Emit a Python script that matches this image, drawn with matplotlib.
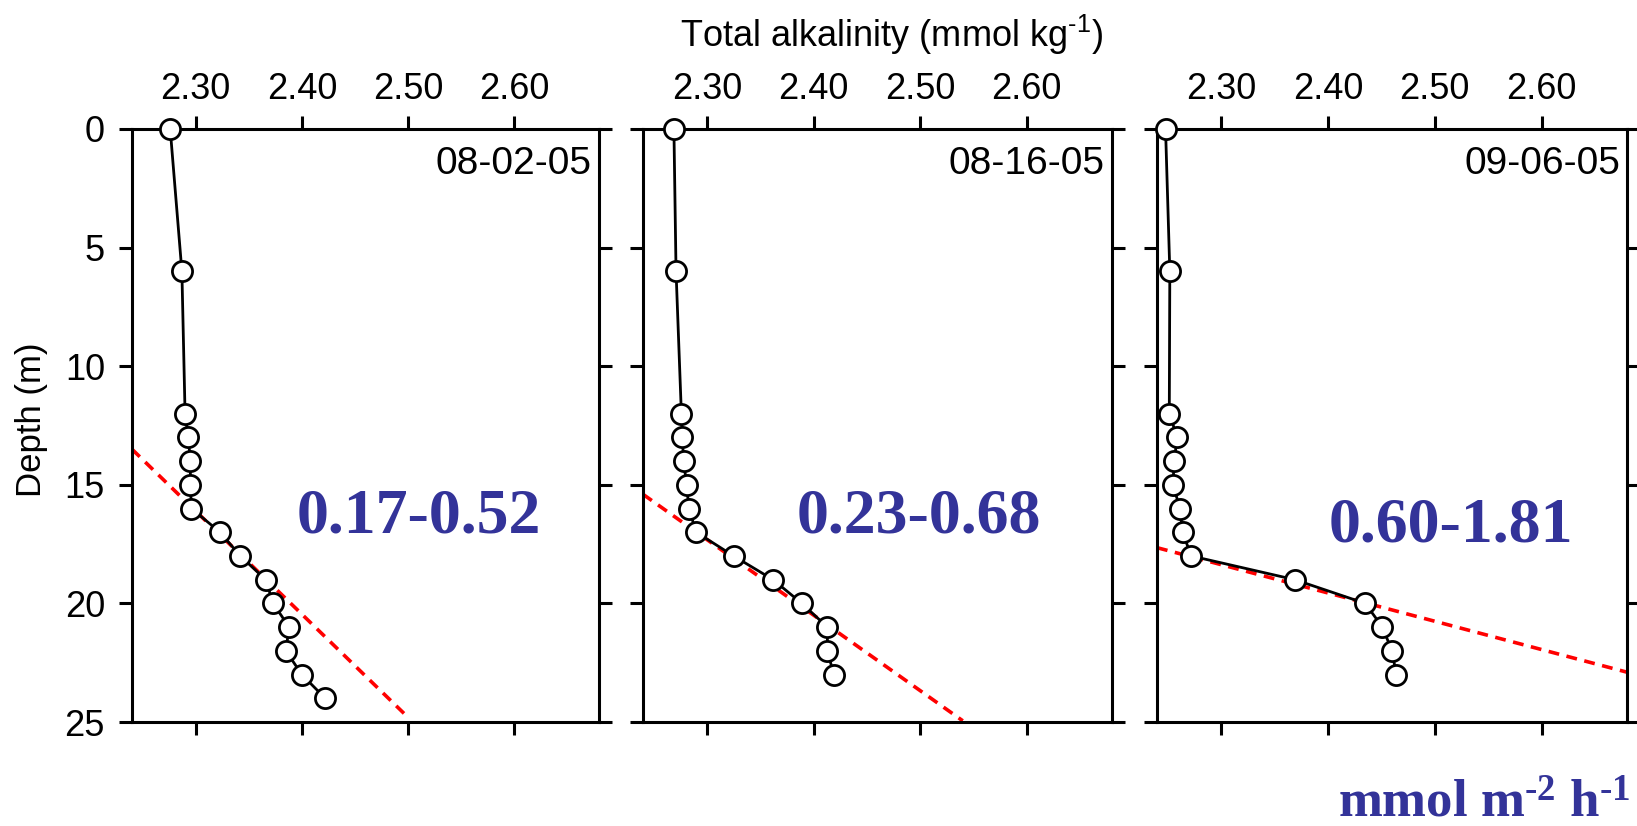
import numpy as np
import matplotlib
matplotlib.use('Agg')
import matplotlib.pyplot as plt

plt.rcParams['font.family'] = ['Liberation Sans', 'DejaVu Sans']
plt.rcParams['mathtext.default'] = 'regular'

# data
dates = ['08-02-05', '08-16-05', '09-06-05']
flux_labels = ['0.17-0.52', '0.23-0.68', '0.60-1.81']

depth_1 = [0, 6, 12, 13, 14, 15, 16, 17, 18, 19, 20, 21, 22, 23, 24]
alk_1 = [2.276, 2.287, 2.290, 2.293, 2.295, 2.295, 2.296, 2.323, 2.342, 2.366,
         2.373, 2.388, 2.385, 2.400, 2.422]

depth_2 = [0, 6, 12, 13, 14, 15, 16, 17, 18, 19, 20, 21, 22, 23]
alk_2 = [2.269, 2.271, 2.276, 2.277, 2.278, 2.281, 2.283, 2.290, 2.325, 2.362,
         2.389, 2.413, 2.413, 2.419]

depth_3 = [0, 6, 12, 13, 14, 15, 16, 17, 18, 19, 20, 21, 22, 23]
alk_3 = [2.248, 2.252, 2.2515, 2.259, 2.256, 2.255, 2.2615, 2.264, 2.272, 2.369,
         2.435, 2.451, 2.460, 2.464]

# gradient fit lines (end points)
fit_alk_1 = [2.24, 2.50]
fit_depth_1 = [13.5, 24.8]
fit_alk_2 = [2.24, 2.54]
fit_depth_2 = [15.4, 24.95]
fit_alk_3 = [2.24, 2.68]
fit_depth_3 = [17.65, 22.9]

# where the flux labels sit (alkalinity, depth of baseline)
label_alk = [2.51, 2.499, 2.515]
label_depth = [17.03, 17.02, 17.4]

xticks = [2.30, 2.40, 2.50, 2.60]
yticks = [0, 5, 10, 15, 20, 25]

profiles = [(alk_1, depth_1), (alk_2, depth_2), (alk_3, depth_3)]
fits = [(fit_alk_1, fit_depth_1), (fit_alk_2, fit_depth_2), (fit_alk_3, fit_depth_3)]

W, H = 1637, 826
fig = plt.figure(figsize=(W / 100, H / 100), dpi=100)

# axes boxes in pixels: (left, right)
boxes = [(132, 599), (643, 1112), (1157, 1627)]
top_px, bot_px = 129, 722
blue = '#333399'

for i, (l, r) in enumerate(boxes):
    ax = fig.add_axes([l / W, 1 - bot_px / H, (r - l) / W, (bot_px - top_px) / H])
    alk, dep = profiles[i]
    fx, fy = fits[i]
    ax.plot(fx, fy, color='red', lw=2.6, linestyle=(0, (3.0, 2.1)), zorder=2)
    ax.plot(alk, dep, color='black', lw=2.0, marker='o', markersize=14.5,
            markerfacecolor='white', markeredgecolor='black', markeredgewidth=2.0,
            clip_on=False, zorder=3)
    ax.set_xlim(2.24, 2.68)
    ax.set_ylim(25, 0)
    ax.set_xticks(xticks)
    ax.set_xticklabels(['%.2f' % t for t in xticks])
    ax.set_yticks(yticks)
    ax.xaxis.set_ticks_position('both')
    ax.yaxis.set_ticks_position('both')
    ax.tick_params(axis='both', direction='out', length=9.5, width=2.2,
                   labelsize=26, pad=6)
    ax.tick_params(axis='x', labeltop=True, labelbottom=False)
    ax.tick_params(axis='y', labelleft=(i == 0), labelright=False, pad=10)
    for s in ax.spines.values():
        s.set_linewidth(2.2)
    ax.text(0.985, 0.972, dates[i], transform=ax.transAxes, ha='right', va='top',
            fontsize=28)
    ax.text(label_alk[i], label_depth[i], flux_labels[i], ha='center',
            va='baseline', color=blue, fontsize=46, fontweight='bold',
            family='Liberation Serif', zorder=4)

fig.text(892 / W, 1 - 47 / H, 'Total alkalinity (mmol kg$^{\u20101}$)', ha='center',
         va='baseline', fontsize=26)
fig.text(32 / W, 1 - 420 / H, 'Depth (m)', rotation=90, ha='center', va='center',
         fontsize=25)
fig.text(1630 / W, 1 - 817 / H, 'mmol m$^{\u20102}$ h$^{\u20101}$', ha='right',
         va='baseline', color=blue, fontsize=38, fontweight='bold',
         family='Liberation Serif')

fig.savefig('out.png', dpi=100)
